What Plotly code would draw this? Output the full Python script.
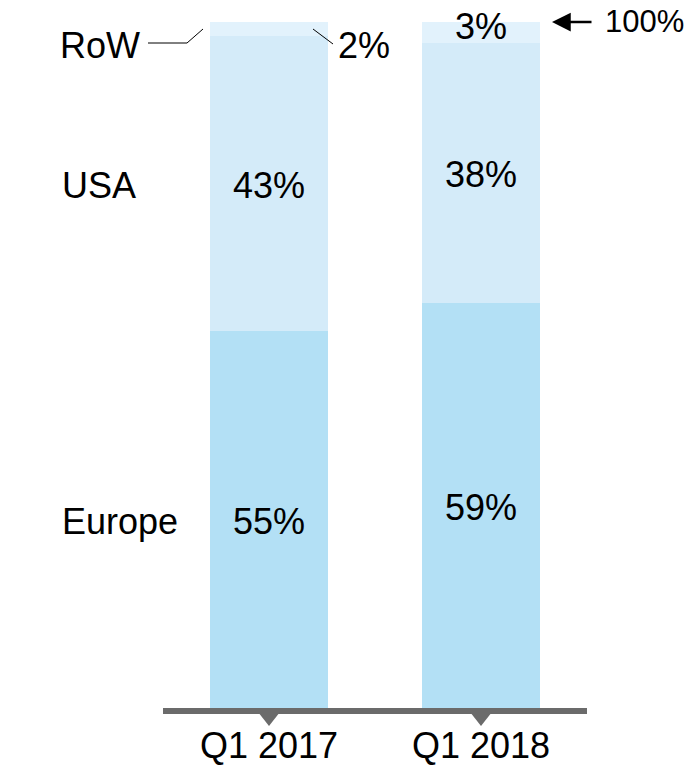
import plotly.graph_objects as go

# ---- data ----
categories = ["Q1 2017", "Q1 2018"]
series_names = ["Europe", "USA", "RoW"]
europe = [55, 59]
usa = [43, 38]
row = [2, 3]
total_label = "100%"

colors = {"Europe": "#b3e0f5", "USA": "#d4ebf9", "RoW": "#e2f2fc"}
FONT = "Liberation Sans, Arial, sans-serif"
W, H = 698, 772
PLOT_BOTTOM = 708          # pixel row of value 0
PX_PER_UNIT = 6.86         # pixels per percentage point
YMAX = PLOT_BOTTOM / PX_PER_UNIT
X0, X1 = 163, 587          # pixel extent of the x axis domain


def px_x(px):   # pixel -> paper x
    return px / W


def px_y(py):   # pixel -> paper y (plot area = top 708 px)
    return (PLOT_BOTTOM - py) / PLOT_BOTTOM


fig = go.Figure()
values = {"Europe": europe, "USA": usa, "RoW": row}
for name in series_names:
    fig.add_trace(go.Bar(
        x=categories, y=values[name], name=name, width=0.557,
        marker=dict(color=colors[name], line=dict(width=0)),
        hoverinfo="skip", showlegend=False,
    ))

ann = []
tf = dict(family=FONT, size=36, color="#000000")

# value labels
for i, cat in enumerate(categories):
    base = 0
    for name in series_names:
        v = values[name][i]
        mid = base + v / 2
        base += v
        if name == "RoW":
            continue
        ann.append(dict(x=cat, y=mid, xref="x", yref="y", text=f"{v}%",
                        showarrow=False, font=tf, xanchor="center", yanchor="middle",
                        yshift=-2))

# RoW labels
ann.append(dict(x=px_x(336), y=px_y(45), xref="paper", yref="paper", text=f"{row[0]}%",
                showarrow=False, font=tf, xanchor="left", yanchor="middle"))
ann.append(dict(x=categories[1], y=100 - row[1] / 2, xref="x", yref="y", text=f"{row[1]}%",
                showarrow=False, font=tf, xanchor="center", yanchor="middle", yshift=6))

# series labels on the left
ann.append(dict(x=px_x(60), y=europe[0] / 2, xref="paper", yref="y", text="Europe",
                showarrow=False, font=tf, xanchor="left", yanchor="middle", yshift=-2))
ann.append(dict(x=px_x(60), y=europe[0] + usa[0] / 2, xref="paper", yref="y", text="USA",
                showarrow=False, font=tf, xanchor="left", yanchor="middle", yshift=-2))
ann.append(dict(x=px_x(142), y=px_y(45), xref="paper", yref="paper", text="RoW",
                showarrow=False, font=tf, xanchor="right", yanchor="middle"))

# category labels
for cat in categories:
    ann.append(dict(x=cat, y=px_y(745), xref="x", yref="paper", text=cat,
                    showarrow=False, font=tf, xanchor="center", yanchor="middle"))

# 100% arrow and label
ann.append(dict(x=px_x(552), y=100, xref="paper", yref="y", text="",
                showarrow=True, arrowhead=2, arrowsize=1.5, arrowwidth=2.5,
                arrowcolor="#000000", ax=41, ay=0, standoff=0))
ann.append(dict(x=px_x(603), y=px_y(21), xref="paper", yref="paper", text=total_label,
                showarrow=False, font=dict(family=FONT, size=31, color="#000000"),
                xanchor="left", yanchor="middle"))

shapes = [
    # axis baseline
    dict(type="line", xref="paper", yref="paper", x0=px_x(X0), x1=px_x(X1),
         y0=px_y(711), y1=px_y(711), line=dict(color="#6b6b6b", width=6)),
    # RoW leader
    dict(type="path", xref="paper", yref="paper",
         path=f"M {px_x(148)},{px_y(43)} L {px_x(187)},{px_y(43)} L {px_x(203)},{px_y(29)}",
         line=dict(color="#000000", width=1)),
    # 2% leader
    dict(type="line", xref="paper", yref="paper", x0=px_x(313), y0=px_y(29),
         x1=px_x(333), y1=px_y(44), line=dict(color="#000000", width=1)),
]

# triangle tick markers under the axis line, at each category centre
step = (X1 - X0) / len(categories)
for i, _ in enumerate(categories):
    cx = X0 + (i + 0.5) * step
    shapes.append(dict(
        type="path", xref="paper", yref="paper",
        path=(f"M {px_x(cx - 11)},{px_y(712)} L {px_x(cx + 11)},{px_y(712)} "
              f"L {px_x(cx)},{px_y(726)} Z"),
        fillcolor="#6b6b6b", line=dict(width=0),
    ))

fig.update_layout(
    width=W, height=H, margin=dict(l=0, r=0, t=0, b=H - PLOT_BOTTOM, pad=0),
    plot_bgcolor="white", paper_bgcolor="white", barmode="stack", bargap=0,
    xaxis=dict(domain=[X0 / W, X1 / W], range=[-0.5, 1.5], type="category",
               showline=False, showgrid=False, zeroline=False, showticklabels=False,
               ticks="", categoryorder="array", categoryarray=categories),
    yaxis=dict(range=[0, YMAX], visible=False, showgrid=False, zeroline=False),
    annotations=ann, shapes=shapes, showlegend=False,
)

fig.write_html("out.html")
